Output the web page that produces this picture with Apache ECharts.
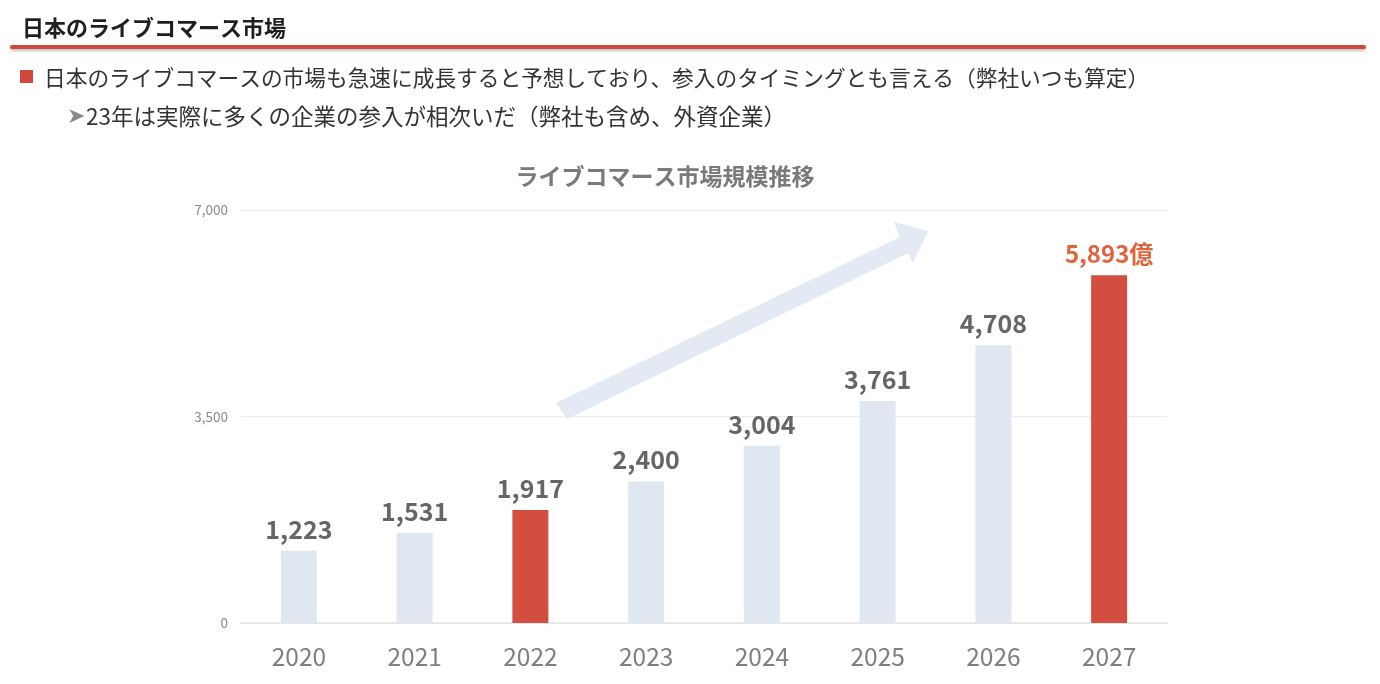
<!DOCTYPE html>
<html>
<head>
<meta charset="utf-8">
<script src="https://cdn.jsdelivr.net/npm/echarts@6/dist/echarts.min.js"></script>
<style>
  html, body { margin: 0; padding: 0; background: #fff; }
  #main { width: 1380px; height: 684px; }
</style>
</head>
<body>
<div id="main"></div>
<script>
// data
const years = ['2020', '2021', '2022', '2023', '2024', '2025', '2026', '2027'];
const marketSize = [1223, 1531, 1917, 2400, 3004, 3761, 4708, 5893];
const highlightYears = ['2022', '2027'];
const yTicks = [0, 3500, 7000];

const jp = '"Noto Sans CJK JP", "Noto Sans", sans-serif';
const RED = '#D24E3E';
const PALE = '#DFE7F1';

const chart = echarts.init(document.getElementById('main'));

const barData = marketSize.map((v, i) => ({
  value: v,
  itemStyle: { color: highlightYears.includes(years[i]) ? RED : PALE }
}));

const option = {
  animation: false,
  backgroundColor: '#fff',
  grid: { left: 241, right: 213, top: 210, bottom: 61 },
  xAxis: {
    type: 'category',
    data: years,
    axisTick: { show: false },
    axisLine: { lineStyle: { color: '#e4e4e4', width: 1.5 } },
    axisLabel: { color: '#7f7f7f', fontSize: 24.5, fontFamily: jp, margin: 21 }
  },
  yAxis: {
    type: 'value',
    min: yTicks[0],
    max: yTicks[yTicks.length - 1],
    interval: yTicks[1] - yTicks[0],
    axisLine: { show: false },
    axisTick: { show: false },
    splitLine: { lineStyle: { color: '#ececec' } },
    axisLabel: {
      color: '#8a8a8a', fontSize: 13.5, fontFamily: jp, margin: 13,
      formatter: v => v.toLocaleString('en-US')
    }
  },
  series: [{
    type: 'bar',
    data: barData,
    barWidth: 36,
    z: 3,
    label: {
      show: true,
      position: 'top',
      distance: 9,
      fontSize: 25,
      fontWeight: 'bold',
      fontFamily: jp,
      color: '#666',
      formatter: p => p.dataIndex === years.length - 1
        ? '{last|' + p.value.toLocaleString('en-US') + '億}'
        : p.value.toLocaleString('en-US'),
      rich: {
        last: { fontSize: 24, fontWeight: 'bold', fontFamily: jp, color: '#E0643E' }
      }
    }
  }],
  graphic: [
    {
      type: 'text',
      style: { x: 22, y: 28, verticalAlign: 'middle', text: '日本のライブコマース市場',
        font: 'bold 22px ' + jp, fill: '#1f1f1f' }
    },
    {
      type: 'rect',
      shape: { x: 10, y: 45, width: 1356, height: 4, r: 2 },
      style: { fill: '#D04A3C', shadowBlur: 3, shadowOffsetY: 2, shadowColor: 'rgba(0,0,0,0.25)' }
    },
    {
      type: 'rect',
      shape: { x: 20, y: 70, width: 13, height: 13 },
      style: { fill: '#D04A3C' }
    },
    {
      type: 'text',
      style: { x: 44, y: 78, verticalAlign: 'middle',
        text: '日本のライブコマースの市場も急速に成長すると予想しており、参入のタイミングとも言える（弊社いつも算定）',
        font: '21.7px ' + jp, fill: '#333' }
    },
    {
      type: 'text',
      style: { x: 67, y: 117, verticalAlign: 'middle', text: '➤',
        font: '22px "DejaVu Sans"', fill: '#8a8a8a' }
    },
    {
      type: 'text',
      style: { x: 86, y: 116, verticalAlign: 'middle',
        text: '23年は実際に多くの企業の参入が相次いだ（弊社も含め、外資企業）',
        font: '22.5px ' + jp, fill: '#333' }
    },
    {
      type: 'text',
      style: { x: 665, y: 176, align: 'center', verticalAlign: 'middle',
        text: 'ライブコマース市場規模推移', font: 'bold 23px ' + jp, fill: '#7a7a7a' }
    },
    {
      // decorative growth arrow
      type: 'polygon',
      z: 1,
      shape: { points: [[556, 403], [900, 237], [894, 222], [928, 231], [913, 263], [908, 253], [567, 419]] },
      style: { fill: '#E3EAF3' }
    }
  ]
};

chart.setOption(option);
</script>
</body>
</html>
